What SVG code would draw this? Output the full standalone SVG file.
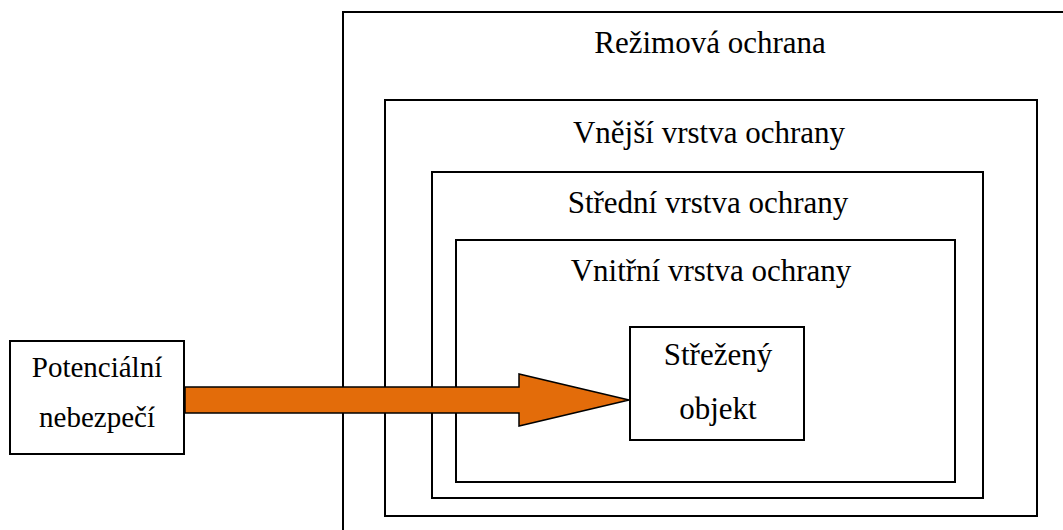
<svg xmlns="http://www.w3.org/2000/svg" width="1063" height="530" viewBox="0 0 1063 530">
<style>
.box{fill:none;stroke:#000;stroke-width:2}
.wbox{fill:#fff;stroke:#000;stroke-width:2}
.t{font-family:"Liberation Serif","Times New Roman",serif;font-size:31px;fill:#000;text-anchor:middle}
.s{font-size:29px}
.arrow{fill:#E36C0A;stroke:#000;stroke-width:1.5;stroke-linejoin:miter}
</style>
<rect width="1063" height="530" fill="#fff"/>
<g id="rezimova">
<rect class="box" x="343" y="12" width="760" height="560"/>
<text class="t" x="710" y="53">Režimová ochrana</text>
</g>
<g id="vnejsi">
<rect class="box" x="385" y="100" width="652" height="416"/>
<text class="t" x="709" y="143">Vnější vrstva ochrany</text>
</g>
<g id="stredni">
<rect class="box" x="432" y="172" width="551" height="326"/>
<text class="t" x="708" y="213">Střední vrstva ochrany</text>
</g>
<g id="vnitrni">
<rect class="box" x="456" y="240" width="499" height="242"/>
<text class="t" x="711" y="281">Vnitřní vrstva ochrany</text>
</g>
<g id="strezeny">
<rect class="wbox" x="630" y="327" width="174" height="113"/>
<text class="t" x="718" y="365">Střežený</text>
<text class="t" x="718" y="419">objekt</text>
</g>
<g id="potencialni">
<rect class="wbox" x="10" y="341" width="174" height="113"/>
<text class="t s" x="97" y="377">Potenciální</text>
<text class="t s" x="97" y="427">nebezpečí</text>
</g>
<g id="connectors">
<path class="arrow" d="M185,387 H519 V374 L629,400 L519,426 V413 H185 Z"/>
</g>
</svg>
